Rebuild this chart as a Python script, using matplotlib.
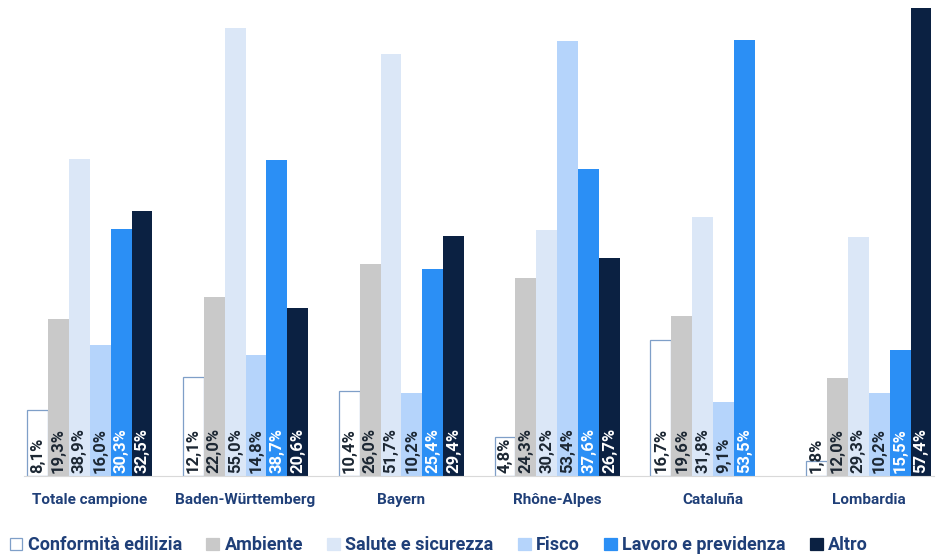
import numpy as np
import matplotlib
matplotlib.use("Agg")
import matplotlib.pyplot as plt
from matplotlib.patches import Patch

regions = ["Totale campione", "Baden-Württemberg", "Bayern", "Rhône-Alpes", "Cataluña", "Lombardia"]
series = ["Conformità edilizia", "Ambiente", "Salute e sicurezza", "Fisco", "Lavoro e previdenza", "Altro"]

conformita = [8.1, 12.1, 10.4, 4.8, 16.7, 1.8]
ambiente = [19.3, 22.0, 26.0, 24.3, 19.6, 12.0]
salute = [38.9, 55.0, 51.7, 30.2, 31.8, 29.3]
fisco = [16.0, 14.8, 10.2, 53.4, 9.1, 10.2]
lavoro = [30.3, 38.7, 25.4, 37.6, 53.5, 15.5]
altro = [32.5, 20.6, 29.4, 26.7, 0.0, 57.4]

values = [conformita, ambiente, salute, fisco, lavoro, altro]
colors = ["white", "#c9c9c9", "#dbe7f7", "#b5d4fb", "#2b8ff5", "#0b2142"]
edges = ["#7f9fc8", "none", "none", "none", "none", "none"]
label_colors = ["#1c2733", "#1c2733", "#1c2733", "#1c2733", "white", "white"]
navy = "#1f3f78"

plt.rcParams["font.family"] = ["Roboto", "DejaVu Sans"]

fig = plt.figure(figsize=(9.38, 5.54), dpi=100)
ax = fig.add_axes([0.026, 0.141, 0.97, 0.846])

x = np.arange(len(regions))
w = 0.134
for i, (vals, col) in enumerate(zip(values, colors)):
    pos = x + (i - 2.5) * w
    ax.bar(pos, vals, width=w, color=col, edgecolor=edges[i],
           linewidth=0.9 if edges[i] != "none" else 0)
    for p, v in zip(pos, vals):
        ax.text(p, 0.4, f"{v:.1f}%".replace(".", ","), rotation=90,
                ha="center", va="bottom", fontsize=12, fontweight="bold",
                color=label_colors[i])

ax.set_xlim(-0.42, 5.42)
ax.set_ylim(0, 57.5)
ax.set_yticks([])
ax.set_xticks(x)
ax.set_xticklabels(regions, fontsize=11, fontweight="bold", color=navy)
ax.tick_params(axis="x", length=0, pad=12)
for s in ["top", "right", "left"]:
    ax.spines[s].set_visible(False)
ax.spines["bottom"].set_color("#d9d9d9")
ax.spines["bottom"].set_linewidth(0.8)

handles = [Patch(facecolor=c, edgecolor=(e if e != "none" else c), linewidth=0.9)
           for c, e in zip(colors, edges)]
fig.legend(handles, series, loc="lower center", ncol=6, frameon=False,
           bbox_to_anchor=(0.468, -0.03), prop={"size": 13, "weight": "bold"},
           labelcolor=navy, handlelength=0.7, handleheight=0.7,
           handletextpad=0.3, columnspacing=1.35)

fig.savefig("out.png", dpi=100)
